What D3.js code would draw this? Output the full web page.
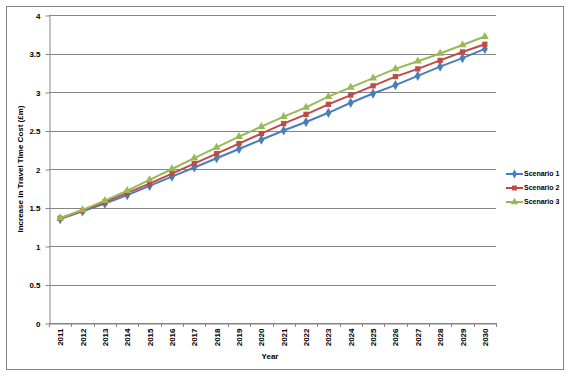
<!DOCTYPE html>
<html><head><meta charset="utf-8">
<script src="https://cdn.jsdelivr.net/npm/d3@7"></script>
<style>body{margin:0;background:#fff;} text{font-family:"Liberation Sans",Arial,sans-serif;}</style>
</head><body>
<svg id="c" width="572" height="377"></svg>
<script>
const years = ["2011","2012","2013","2014","2015","2016","2017","2018","2019","2020","2021","2022","2023","2024","2025","2026","2027","2028","2029","2030"];
const scenario1 = [1.35,1.45,1.55,1.66,1.78,1.90,2.02,2.14,2.26,2.38,2.50,2.61,2.73,2.86,2.98,3.09,3.21,3.33,3.44,3.56];
const scenario2 = [1.36,1.46,1.57,1.69,1.81,1.94,2.07,2.20,2.33,2.46,2.59,2.71,2.84,2.96,3.08,3.20,3.30,3.41,3.52,3.62];
const scenario3 = [1.36,1.47,1.59,1.72,1.86,2.00,2.14,2.28,2.42,2.55,2.68,2.80,2.94,3.06,3.18,3.30,3.40,3.50,3.61,3.72];
const yTicks = [0,0.5,1,1.5,2,2.5,3,3.5,4];
const seriesNames = ["Scenario 1","Scenario 2","Scenario 3"];
const colors = ["#4A7EBB","#BE4B48","#98B954"];
const shapes = [d3.symbolDiamond, d3.symbolSquare, d3.symbolTriangle];
const series = [scenario1, scenario2, scenario3];

const svg = d3.select("#c");
svg.append("rect").attr("x",6.5).attr("y",6.5).attr("width",557).attr("height",363)
  .attr("fill","#fff").attr("stroke","#868686").attr("stroke-width",1);

const L=49, R=496, T=15, B=323;
const x = d3.scaleBand().domain(years).range([L,R]);
const y = d3.scaleLinear().domain([0,4]).range([B,T]);

// gridlines
svg.append("g").selectAll("line").data(yTicks).join("line")
  .attr("x1",L).attr("x2",R).attr("y1",d=>Math.round(y(d))+0.5).attr("y2",d=>Math.round(y(d))+0.5)
  .attr("stroke","#868686").attr("stroke-width",1);

// y axis
const ya = svg.append("g").attr("transform",`translate(${L+0.5},0.5)`)
  .call(d3.axisLeft(y).tickValues(yTicks).tickSize(4).tickSizeOuter(0).tickFormat(d3.format("")));
ya.select(".domain").attr("stroke","#868686");
ya.selectAll(".tick line").attr("stroke","#868686");
ya.selectAll("text").attr("font-size","8px").attr("font-weight","bold").attr("fill","#000").attr("dx","-2");

// x axis
const xa = svg.append("g").attr("transform",`translate(0.5,${B+0.5})`)
  .call(d3.axisBottom(x).tickSize(0).tickSizeOuter(0));
xa.select(".domain").attr("stroke","#868686");
xa.selectAll(".tick text").attr("font-size","8px").attr("font-weight","bold").attr("fill","#000")
  .attr("transform","rotate(-90)").attr("text-anchor","end").attr("x",-5).attr("y",0).attr("dy","0.32em");
// boundary ticks
const bounds = years.map(d=>x(d)).concat([R]);
svg.append("g").selectAll("line").data(bounds).join("line")
  .attr("x1",d=>Math.round(d)+0.5).attr("x2",d=>Math.round(d)+0.5).attr("y1",B).attr("y2",B+4)
  .attr("stroke","#868686");

// titles
svg.append("text").attr("x",270).attr("y",359).attr("text-anchor","middle")
  .attr("font-size","8px").attr("font-weight","bold").text("Year");
svg.append("text").attr("transform",`translate(23,${(T+B)/2}) rotate(-90)`).attr("text-anchor","middle")
  .attr("font-size","8px").attr("font-weight","bold").text("Increase in Travel Time Cost (£m)");

// series
const line = d3.line().x((d,i)=>x(years[i])+x.bandwidth()/2).y(d=>y(d));
series.forEach((s,k)=>{
  svg.append("path").datum(s).attr("d",line).attr("fill","none").attr("stroke",colors[k]).attr("stroke-width",2);
  svg.append("g").selectAll("path").data(s).join("path")
    .attr("transform",(d,i)=>`translate(${x(years[i])+x.bandwidth()/2},${y(d)})`)
    .attr("d",d3.symbol().type(shapes[k]).size(k===0?30:28)).attr("fill",colors[k]);
});

// legend
const lg = svg.append("g");
seriesNames.forEach((n,k)=>{
  const yy = 174 + k*14;
  lg.append("line").attr("x1",506).attr("x2",523).attr("y1",yy).attr("y2",yy).attr("stroke",colors[k]).attr("stroke-width",2);
  lg.append("path").attr("transform",`translate(514.5,${yy})`).attr("d",d3.symbol().type(shapes[k]).size(24)).attr("fill",colors[k]);
  lg.append("text").attr("x",524).attr("y",yy).attr("dy","0.32em").attr("font-size","7px").attr("font-weight","bold").text(n);
});
</script>
</body></html>
